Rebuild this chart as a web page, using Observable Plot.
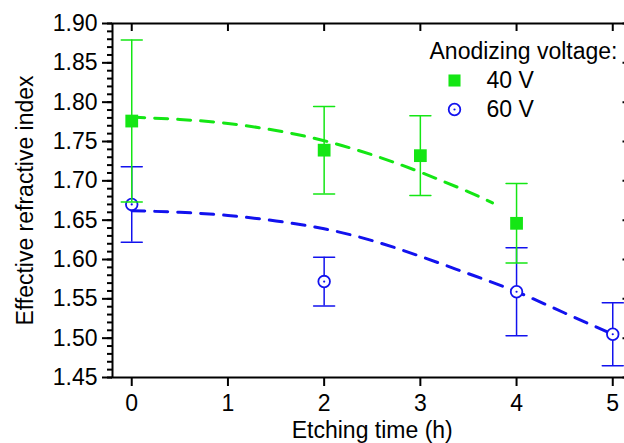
<!DOCTYPE html>
<html>
<head>
<meta charset="utf-8">
<script src="https://cdn.jsdelivr.net/npm/d3@7"></script>
<script src="https://cdn.jsdelivr.net/npm/@observablehq/plot@0.6"></script>
<style>
  html, body { margin: 0; padding: 0; background: #fff; overflow: hidden; }
  #wrap { width: 624px; height: 443px; overflow: hidden; position: relative; }
  #wrap svg { max-width: none !important; width: 640px !important; height: 443px !important; display: block; font-family: "Liberation Sans", Arial, sans-serif; }
</style>
</head>
<body>
<div id="wrap"></div>
<script>
// ---- data ----
const times40 = [0, 2, 3, 4];
const n40     = [1.776, 1.739, 1.732, 1.646];
const err40   = [0.103, 0.0556, 0.0506, 0.0506];

const times60 = [0, 2, 4, 5];
const n60     = [1.670, 1.572, 1.559, 1.505];
const err60   = [0.048, 0.031, 0.056, 0.040];

// dashed fit curves
const fitX40 = [0, 0.5, 1, 1.5, 2, 2.5, 3, 3.5, 3.75];
const fit40  = [1.781, 1.778, 1.773, 1.764, 1.751, 1.733, 1.711, 1.686, 1.672];
const fitX60 = [0, 0.5, 1, 1.5, 2, 2.5, 3, 3.5, 4, 4.5, 5];
const fit60  = [1.662, 1.660, 1.656, 1.649, 1.639, 1.624, 1.604, 1.582, 1.559, 1.532, 1.505];

const xTicks  = [0, 1, 2, 3, 4, 5];
const yMajor  = [1.45, 1.50, 1.55, 1.60, 1.65, 1.70, 1.75, 1.80, 1.85, 1.90];
const yMinor  = d3.range(145, 191).map(v => v / 100);

const legendTitle = "Anodizing voltage:";
const seriesNames = ["40 V", "60 V"];
const xLabel = "Etching time (h)";
const yLabel = "Effective refractive index";

// ---- build tables ----
const pts40 = times40.map((t, i) => ({t, n: n40[i], lo: n40[i] - err40[i], hi: n40[i] + err40[i]}));
const pts60 = times60.map((t, i) => ({t, n: n60[i], lo: n60[i] - err60[i], hi: n60[i] + err60[i]}));
const curve40 = fitX40.map((t, i) => ({t, n: fit40[i]}));
const curve60 = fitX60.map((t, i) => ({t, n: fit60[i]}));

const GREEN = "#14e614";
const BLUE = "#1212ee";
const FS = 23;

const capShape = { draw(ctx, l) { ctx.moveTo(0, 0); ctx.lineTo(0, -l); } };
const errBars = (pts, color) => [
  Plot.ruleX(pts, {x: "t", y1: "lo", y2: "hi", stroke: color, strokeWidth: 1.5}),
  Plot.vector(pts, {x: "t", y: "hi", rotate: 90, length: 21, anchor: "middle", shape: capShape, stroke: color, strokeWidth: 1.5}),
  Plot.vector(pts, {x: "t", y: "lo", rotate: 90, length: 21, anchor: "middle", shape: capShape, stroke: color, strokeWidth: 1.5})
];

const chart = Plot.plot({
  width: 640,
  height: 443,
  marginLeft: 112,
  marginRight: 8.5,
  marginTop: 23,
  marginBottom: 66,
  style: {fontFamily: '"Liberation Sans", Arial, sans-serif', fontSize: FS + "px", color: "#000", background: "#fff", maxWidth: "none"},
  x: {domain: [-0.2, 5.2]},
  y: {domain: [1.45, 1.90]},
  marks: [
    // axes
    Plot.axisY({ticks: yMajor, tickSize: 10, tickPadding: 5, tickFormat: d3.format(".2f"), fontSize: FS, label: null, strokeWidth: 2}),
    Plot.axisY({ticks: yMinor, tickSize: 5, tickFormat: () => "", label: null, strokeWidth: 2}),
    Plot.axisY({anchor: "right", ticks: yMajor, tickSize: -10, tickFormat: () => "", label: null, strokeWidth: 2}),
    Plot.axisY({anchor: "right", ticks: yMinor, tickSize: -5, tickFormat: () => "", label: null, strokeWidth: 2}),
    Plot.axisX({ticks: xTicks, tickSize: 9, tickPadding: 8, tickFormat: d3.format("d"), fontSize: FS, label: null, strokeWidth: 2}),
    Plot.axisX({anchor: "top", ticks: xTicks, tickSize: -7, tickFormat: () => "", label: null, strokeWidth: 2}),
    Plot.frame({strokeWidth: 2}),
    // axis titles
    Plot.text([xLabel], {frameAnchor: "bottom", dy: 53, lineAnchor: "middle", fontSize: FS}),
    Plot.text([yLabel], {frameAnchor: "left", dx: -87, rotate: -90, lineAnchor: "middle", textAnchor: "middle", fontSize: FS}),
    // fit curves
    Plot.line(curve40, {x: "t", y: "n", stroke: GREEN, strokeWidth: 3, strokeDasharray: "13,10", curve: "natural"}),
    Plot.line(curve60, {x: "t", y: "n", stroke: BLUE, strokeWidth: 3, strokeDasharray: "13,10", curve: "natural"}),
    // error bars and markers
    ...errBars(pts60, BLUE),
    Plot.dot(pts60, {x: "t", y: "n", r: 5.8, stroke: BLUE, strokeWidth: 1.8, fill: "white"}),
    Plot.dot(pts60, {x: "t", y: "n", r: 1.1, fill: BLUE}),
    ...errBars(pts40, GREEN),
    Plot.dot(pts40, {x: "t", y: "n", symbol: "square", r: 7.2, fill: GREEN}),
    // legend
    Plot.text([legendTitle], {frameAnchor: "top-left", dx: 317, dy: 28, textAnchor: "start", lineAnchor: "middle", fontSize: FS}),
    Plot.dot([0], {frameAnchor: "top-left", dx: 342, dy: 57, symbol: "square", r: 6.8, fill: GREEN}),
    Plot.dot([0], {frameAnchor: "top-left", dx: 342, dy: 86, r: 5.8, stroke: BLUE, strokeWidth: 1.8, fill: "white"}),
    Plot.dot([0], {frameAnchor: "top-left", dx: 342, dy: 86, r: 1.1, fill: BLUE}),
    Plot.text([seriesNames[0]], {frameAnchor: "top-left", dx: 374, dy: 57, textAnchor: "start", lineAnchor: "middle", fontSize: FS}),
    Plot.text([seriesNames[1]], {frameAnchor: "top-left", dx: 374, dy: 86, textAnchor: "start", lineAnchor: "middle", fontSize: FS})
  ]
});
document.getElementById("wrap").append(chart);
</script>
</body>
</html>
